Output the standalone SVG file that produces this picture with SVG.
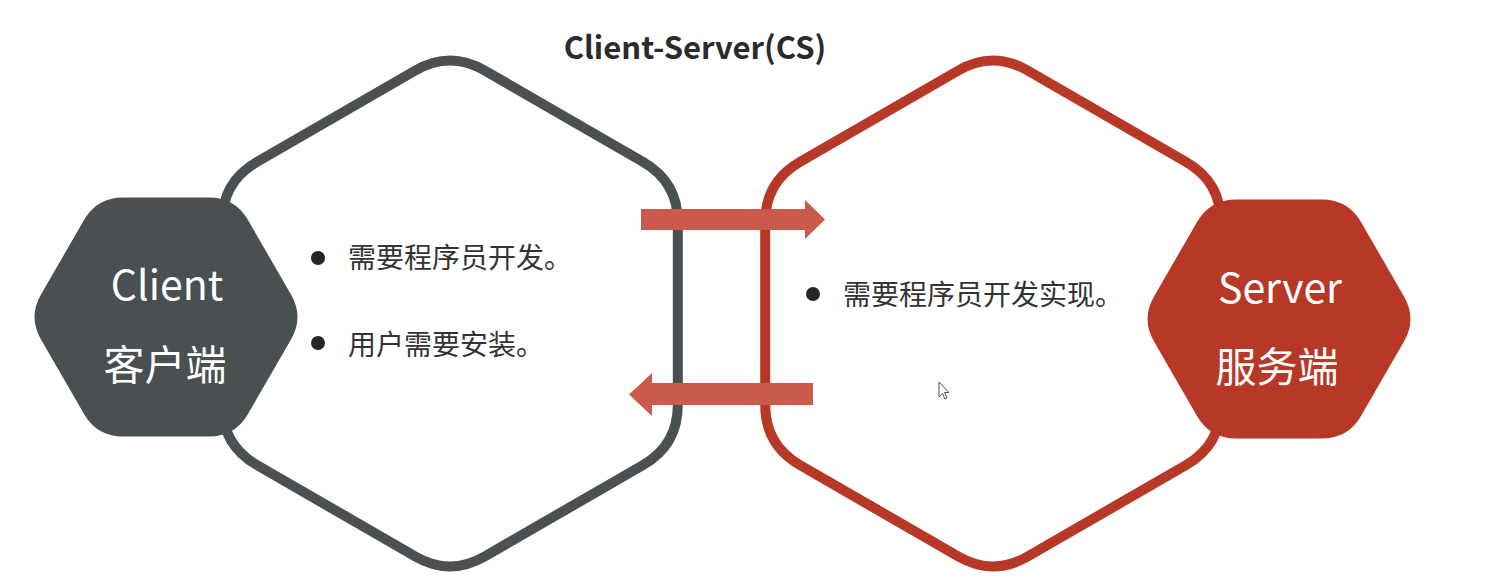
<svg xmlns="http://www.w3.org/2000/svg" width="1502" height="588" viewBox="0 0 1502 588">
<style>
.title{font-family:"Noto Sans CJK SC","Noto Sans",sans-serif;font-weight:bold;font-size:31px;fill:#2b2b2b;text-anchor:middle}
.lbl{font-family:"Noto Sans CJK SC","Noto Sans",sans-serif;font-size:41px;fill:#ffffff;text-anchor:middle}
.item{font-family:"Noto Sans CJK SC","Noto Sans",sans-serif;font-size:28px;fill:#333333}
.dot{fill:#262626}
.arrow{fill:#cc5a4c}
</style>
<defs>
<path id="bighex" d="M 34.64,-243 L 193.16,-151.5 Q 227.8,-131.5 227.8,-91.5 L 227.8,91.5 Q 227.8,131.5 193.16,151.5 L 34.64,243 Q 0,263 -34.64,243 L -193.16,151.5 Q -227.8,131.5 -227.8,91.5 L -227.8,-91.5 Q -227.8,-131.5 -193.16,-151.5 L -34.64,-243 Q 0,-263 34.64,-243 Z"/>
<path id="smallhex" d="M 125,22.52 L 82,96.98 Q 69,119.5 43,119.5 L -43,119.5 Q -69,119.5 -82,96.98 L -125,22.52 Q -138,0 -125,-22.52 L -82,-96.98 Q -69,-119.5 -43,-119.5 L 43,-119.5 Q 69,-119.5 82,-96.98 L 125,-22.52 Q 138,0 125,22.52 Z"/>
</defs>
<rect width="1502" height="588" fill="#ffffff"/>
<text class="title" x="695" y="59">Client-Server(CS)</text>

<g id="client-area">
<use href="#bighex" transform="translate(450,313.5)" fill="#ffffff" stroke="#4b5052" stroke-width="10"/>
<circle class="dot" cx="318" cy="258" r="7"/>
<text class="item" x="348" y="268">需要程序员开发。</text>
<circle class="dot" cx="318" cy="343" r="7"/>
<text class="item" x="348" y="355">用户需要安装。</text>
</g>

<g id="server-area">
<use href="#bighex" transform="translate(993,313.5)" fill="#ffffff" stroke="#b83828" stroke-width="10"/>
<circle class="dot" cx="813" cy="294" r="7"/>
<text class="item" x="843" y="305">需要程序员开发实现。</text>
</g>

<g id="client">
<use href="#smallhex" transform="translate(166,317)" fill="#4a4f51"/>
<text class="lbl" x="167" y="300">Client</text>
<text class="lbl" x="165" y="380">客户端</text>
</g>

<g id="server">
<use href="#smallhex" transform="translate(1279,319)" fill="#b83828"/>
<text class="lbl" x="1280" y="303">Server</text>
<text class="lbl" x="1277" y="382">服务端</text>
</g>

<g id="connectors">
<polygon class="arrow" points="641,209 805,209 805,200 825,219.5 805,239 805,230 641,230"/>
<polygon class="arrow" points="813,383 652,383 652,373 629,394.5 652,416 652,405 813,405"/>
</g>

<polygon points="939,382 939,397 942.5,393.5 945,399 947,398 944.5,392.5 949,392.5" fill="#ffffff" stroke="#555555" stroke-width="1"/>
</svg>
